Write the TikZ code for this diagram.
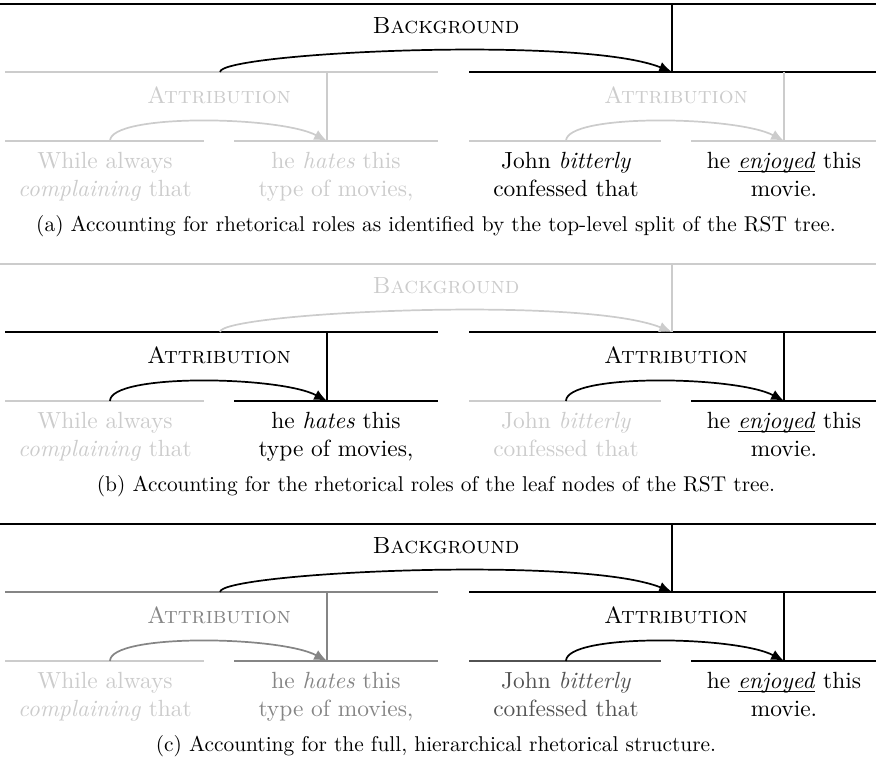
\documentclass[tikz,border=0pt]{standalone}
\usepackage{xcolor}
\usepackage{tikz}
\usetikzlibrary{arrows.meta}

\colorlet{off}{black!20}
\colorlet{half}{black!48}
\colorlet{dim}{black!68}

\tikzset{
  on/.style={black}, faded/.style={off}, halfway/.style={half}, darker/.style={dim},
  root bar/.style=on, root rel/.style=on, left bar/.style=on, right bar/.style=on,
  left rel/.style=on, right rel/.style=on,
  bar1/.style=on, bar2/.style=on, bar3/.style=on, bar4/.style=on,
  txt1/.style=on, txt2/.style=on, txt3/.style=on, txt4/.style=on
}

\newcommand{\rsttree}[1]{%
  % Anchors
  \coordinate (#1-top) at (672,4);
  \coordinate (#1-ls) at (220,72);
  \coordinate (#1-rn) at (672,72);
  \coordinate (#1-lt) at (327,72);
  \coordinate (#1-rt) at (784,72);
  \coordinate (#1-e1) at (110,141);
  \coordinate (#1-e2) at (327,141);
  \coordinate (#1-e3) at (566,141);
  \coordinate (#1-e4) at (784,141);
  % Spans
  \draw[bar, root bar] (0,4) -- (876,4);
  \draw[bar, left bar] (5,72) -- (438,72);
  \draw[bar, right bar] (469,72) -- (876,72);
  \draw[bar, bar1] (5,141) -- (204,141);
  \draw[bar, bar2] (234,141) -- (438,141);
  \draw[bar, bar3] (469,141) -- (661,141);
  \draw[bar, bar4] (691,141) -- (876,141);
  % Relations
  \node[rel, root rel] (#1-bg) at (446,34) {Background};
  \draw[bar, root rel] (#1-top) -- (#1-rn);
  \draw[arrow, root rel, in=158, out distance=9pt, in distance=46pt] (#1-ls) to (#1-rn);
  \node[rel, left rel] (#1-la) at (219,104) {Attribution};
  \draw[bar, left rel] (#1-lt) -- (#1-e2);
  \draw[arrow, left rel] (#1-e1) to (#1-e2);
  \node[rel, right rel] (#1-ra) at (676,104) {Attribution};
  \draw[bar, right rel] (#1-rt) -- (#1-e4);
  \draw[arrow, right rel] (#1-e3) to (#1-e4);
  % Leaves
  \node[leaf, txt1] (#1-l1) at (105,152) {While always\\\textit{complaining} that};
  \node[leaf, txt2] (#1-l2) at (336,152) {he \textit{hates} this\\type of movies,};
  \node[leaf, txt3] (#1-l3) at (566,152) {John \textit{bitterly}\\confessed that};
  \node[leaf, txt4] (#1-l4) at (784,152) {he \underline{\smash{\textit{enjoyed}}} this\\movie.};
}

\begin{document}
\begin{tikzpicture}[
  x=0.4675pt, y=-0.4675pt,
  bar/.style={line width=0.9pt},
  arrow/.style={-{Latex[length=6pt,width=5pt]}, line width=0.8pt,
    out=90, in=152, out distance=13pt, in distance=25pt},
  rel/.style={anchor=base, inner sep=0pt, font=\fontsize{10.95}{13.1}\selectfont\scshape},
  leaf/.style={anchor=north, inner sep=0pt, align=center,
    font=\fontsize{10.95}{13.1}\selectfont},
  caption/.style={anchor=base, inner sep=0pt, font=\fontsize{10}{12}\selectfont}
]
  \useasboundingbox (0,0) rectangle (876,764);

  % (a) top-level split
  \begin{scope}[left bar/.style=faded, left rel/.style=faded, right rel/.style=faded,
      bar1/.style=faded, bar2/.style=faded, bar3/.style=faded, bar4/.style=faded,
      txt1/.style=faded, txt2/.style=faded]
    \rsttree{a}
    \node[caption] (a-cap) at (436,232) {(a) Accounting for rhetorical roles as identified by the top-level split of the RST tree.};
  \end{scope}

  % (b) leaf nodes
  \begin{scope}[shift={(0,260)}, root bar/.style=faded, root rel/.style=faded,
      bar1/.style=faded, bar3/.style=faded, txt1/.style=faded, txt3/.style=faded]
    \rsttree{b}
    \node[caption] (b-cap) at (436,232) {(b) Accounting for the rhetorical roles of the leaf nodes of the RST tree.};
  \end{scope}

  % (c) full structure
  \begin{scope}[shift={(0,520)}, left bar/.style=halfway, left rel/.style=halfway,
      bar1/.style=faded, bar2/.style=halfway, bar3/.style=darker,
      txt1/.style=faded, txt2/.style=halfway, txt3/.style=darker]
    \rsttree{c}
    \node[caption] (c-cap) at (436,232) {(c) Accounting for the full, hierarchical rhetorical structure.};
  \end{scope}
\end{tikzpicture}
\end{document}
